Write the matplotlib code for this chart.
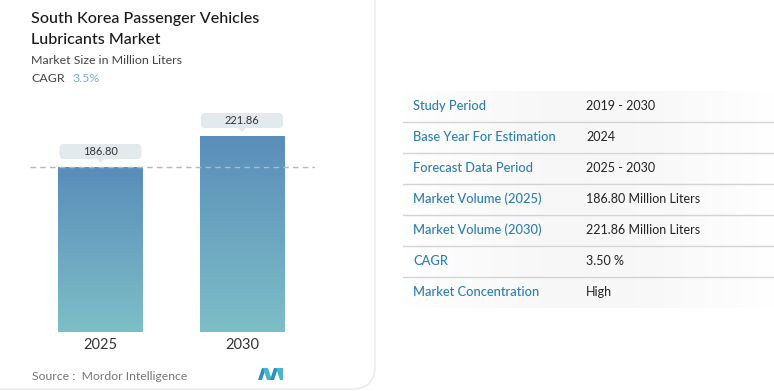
import matplotlib.pyplot as plt
import numpy as np
from matplotlib.patches import FancyBboxPatch, Polygon
from matplotlib.colors import LinearSegmentedColormap

plt.rcParams['font.family'] = ['Lato', 'DejaVu Sans']

years = ["2025", "2030"]
volumes = [186.80, 221.86]
value_labels = ["186.80", "221.86"]
cagr = "3.5%"

table_labels = ["Study Period", "Base Year For Estimation", "Forecast Data Period",
                "Market Volume (2025)", "Market Volume (2030)", "CAGR", "Market Concentration"]
table_values = ["2019 - 2030", "2024", "2025 - 2030", "186.80 Million Liters",
                "221.86 Million Liters", "3.50 %", "High"]

W, H = 774, 391
fig = plt.figure(figsize=(W / 100, H / 100), dpi=100)
fig.patch.set_facecolor("white")


def fx(px):
    return px / W


def fy(py):
    return 1 - py / H


# card behind the chart
card = FancyBboxPatch((fx(-20), fy(389)), fx(395), (389 + 20) / H,
                      boxstyle="round,pad=0,rounding_size=0.03",
                      transform=fig.transFigure, facecolor="white",
                      edgecolor="#ececec", lw=1.2, mutation_aspect=W / H, zorder=-5)
fig.patches.append(card)

# titles
fig.text(fx(31), fy(23), "South Korea Passenger Vehicles", fontsize=11.6, color="#1a1a1a",
         va="baseline", fontweight="medium")
fig.text(fx(31), fy(44), "Lubricants Market", fontsize=11.6, color="#1a1a1a",
         va="baseline", fontweight="medium")
fig.text(fx(31), fy(64), "Market Size in Million Liters", fontsize=8.9, color="#444444", va="baseline")
fig.text(fx(31), fy(82), "CAGR", fontsize=8.9, color="#444444", va="baseline")
fig.text(fx(72), fy(82), cagr, fontsize=8.9, color="#7aaed6", va="baseline")

# bar chart
ax = fig.add_axes([fx(30), fy(332), fx(285), (332 - 100) / H])
ymax = 232 / (165 / 186.8)
x = np.arange(len(years))
ax.set_xlim(-70.5 / 141.5, 1 + 73 / 141.5)
ax.set_ylim(0, ymax)
ax.axis("off")

cmap = LinearSegmentedColormap.from_list("bar", ["#7dbfc7", "#5a8dba"])
bars = ax.bar(x, volumes, width=0.6, color="none", edgecolor="none")
grad = np.linspace(0, 1, 256).reshape(-1, 1)
for b, v in zip(bars, volumes):
    im = ax.imshow(grad, cmap=cmap, aspect="auto", origin="lower",
                   extent=[b.get_x(), b.get_x() + b.get_width(), 0, v], zorder=2)
    im.set_clip_path(b)

ax.axhline(volumes[0], color="#a9bccb", lw=1, ls=(0, (4, 3)), zorder=3)

upp = ymax / 232  # data units per pixel
for xi, v, lab in zip(x, volumes, value_labels):
    bottom = v + 8 * upp
    box = FancyBboxPatch((xi - 0.29, bottom), 0.58, 15 * upp,
                         boxstyle="round,pad=0,rounding_size=0.03",
                         mutation_aspect=upp * 141.5,
                         facecolor="#e3eaee", edgecolor="none", zorder=4, clip_on=False)
    ax.add_patch(box)
    tri = Polygon([[xi - 0.025, bottom], [xi + 0.025, bottom], [xi, bottom - 4 * upp]],
                  closed=True, facecolor="#e3eaee", edgecolor="none", zorder=4, clip_on=False)
    ax.add_patch(tri)
    ax.text(xi, bottom + 7.5 * upp, lab, ha="center", va="center", fontsize=8,
            color="#333333", zorder=5, clip_on=False)

ax.set_ylim(0, ymax)
for xi, yr in zip(x, years):
    fig.text(fx(30) + (xi + 70.5 / 141.5) * 141.5 / W, fy(345), yr, ha="center", va="center",
             fontsize=10.5, color="#333333")

fig.text(fx(32), fy(376), "Source :  Mordor Intelligence", fontsize=8.8, color="#777777", va="center")

# logo
logo = [
    ([258, 380], [262, 368], [266, 368], [262, 380], "#2f8fc0"),
    ([263, 368], [268, 368], [272, 380], [267, 380], "#47b8c8"),
    ([270, 380], [274, 368], [278, 368], [274, 380], "#2f8fc0"),
    ([276, 368], [283, 368], [283, 380], [280, 380], "#47b8c8"),
]
for p1, p2, p3, p4, c in logo:
    fig.patches.append(Polygon([[fx(p[0]), fy(p[1])] for p in (p1, p2, p3, p4)],
                               closed=True, transform=fig.transFigure, facecolor=c, edgecolor="none"))

# table on the right
rowbg = fig.add_axes([fx(403), fy(308), fx(371), (308 - 91) / H], zorder=-1)
g = np.concatenate([np.linspace(1, 0, 128), np.linspace(0, 1, 128)]) ** 1.5
rowbg.imshow(g.reshape(1, -1), cmap=LinearSegmentedColormap.from_list("bg", ["#f7f7f7", "#ffffff"]),
             aspect="auto", extent=[0, 1, 0, 1], vmin=0, vmax=1)
rowbg.axis("off")

for i, (lab, val) in enumerate(zip(table_labels, table_values)):
    yc = 106 + 31 * i
    fig.text(fx(413), fy(yc), lab, fontsize=9.3, color="#2b7db5", va="center", fontweight="medium")
    fig.text(fx(586), fy(yc), val, fontsize=9.0, color="#222222", va="center")
    if i < len(table_labels) - 1:
        ly = fy(yc + 16)
        fig.add_artist(plt.Line2D([fx(403), 1], [ly, ly], transform=fig.transFigure,
                                  color="#d4d4d4", lw=1))

plt.savefig("out.png", dpi=100)
